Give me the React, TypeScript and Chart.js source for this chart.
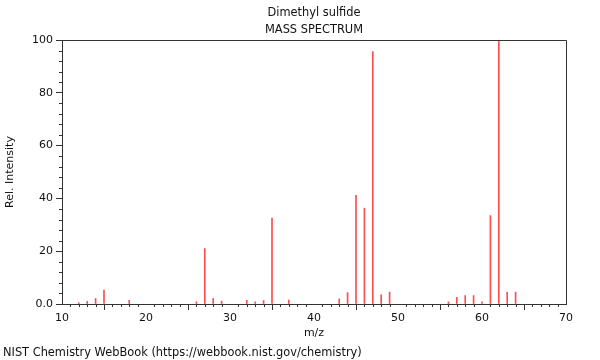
import React, { useEffect, useRef } from "react";
import { Chart, registerables } from "chart.js";

Chart.register(...registerables);

const chartTitle = "Dimethyl sulfide";
const chartSubtitle = "MASS SPECTRUM";
const footerText = "NIST Chemistry WebBook (https://webbook.nist.gov/chemistry)";
const xLabel = "m/z";
const yLabel = "Rel. Intensity";

const mzValues = [12, 13, 14, 15, 18, 26, 27, 28, 29, 32, 33, 34, 35, 37, 43, 44, 45, 46, 47, 48, 49, 56, 57, 58, 59, 60, 61, 62, 63, 64];
const intensities = [0.5, 1.0, 2.1, 5.3, 1.4, 0.8, 21.0, 2.1, 1.1, 1.4, 0.8, 1.3, 32.5, 1.5, 1.9, 4.3, 41.2, 36.3, 95.6, 3.5, 4.5, 0.8, 2.5, 3.2, 3.2, 0.8, 33.5, 100, 4.5, 4.5];

const xMin = 10;
const xMax = 70;
const yMin = 0;
const yMax = 100;

const FONT = "'DejaVu Sans', sans-serif";
const AXIS = "#333333";

const decorPlugin = {
  id: "decor",
  afterDraw(chart: any) {
    const ctx = chart.ctx;
    const { left, right, top, bottom } = chart.chartArea;
    const xs = chart.scales.x;
    const ys = chart.scales.y;
    ctx.save();
    ctx.strokeStyle = AXIS;
    ctx.lineWidth = 1;
    ctx.beginPath();
    ctx.moveTo(left, top + 0.5);
    ctx.lineTo(right + 0.5, top + 0.5);
    ctx.lineTo(right + 0.5, bottom);
    ctx.stroke();
    ctx.beginPath();
    for (let v = xMin; v <= xMax; v += 1) {
      if (v % 10 === 0) continue;
      const px = Math.round(xs.getPixelForValue(v)) + 0.5;
      ctx.moveTo(px, bottom);
      ctx.lineTo(px, bottom + 3);
    }
    for (let v = yMin; v <= yMax; v += 4) {
      if (v % 20 === 0) continue;
      const py = Math.round(ys.getPixelForValue(v)) + 0.5;
      ctx.moveTo(left, py);
      ctx.lineTo(left - 3, py);
    }
    ctx.stroke();
    ctx.fillStyle = "#111";
    ctx.font = `11.4px ${FONT}`;
    ctx.textAlign = "center";
    ctx.textBaseline = "middle";
    const cx = (left + right) / 2;
    ctx.fillText(chartTitle, cx, 13);
    ctx.fillText(chartSubtitle, cx, 30);
    ctx.textAlign = "left";
    ctx.fillText(footerText, 3, 353);
    ctx.restore();
  },
};

export default function App() {
  const ref = useRef<HTMLCanvasElement>(null);
  useEffect(() => {
    if (!ref.current) return;
    const chart = new Chart(ref.current, {
      type: "bar",
      data: {
        datasets: [
          {
            data: mzValues.map((m, i) => ({ x: m, y: intensities[i] })),
            backgroundColor: "rgba(255,0,0,0.7)",
            borderWidth: 0,
            barThickness: 1,
          } as any,
        ],
      },
      options: {
        animation: false,
        responsive: false,
        devicePixelRatio: 1,
        layout: { padding: { top: 40, right: 34, bottom: 20, left: 4 } },
        plugins: {
          legend: { display: false },
          tooltip: { enabled: false },
          title: { display: false },
        },
        scales: {
          x: {
            type: "linear",
            min: xMin,
            max: xMax,
            offset: false,
            border: { display: true, color: AXIS },
            grid: { display: true, drawOnChartArea: false, drawTicks: true, tickLength: 6, color: AXIS },
            ticks: { stepSize: 10, color: "#111", font: { family: FONT, size: 11 }, padding: 2, maxRotation: 0 },
            title: { display: true, text: xLabel, color: "#111", font: { family: FONT, size: 11 }, padding: 0 },
            afterFit(scale: any) {
              scale.height = 36;
            },
          },
          y: {
            min: yMin,
            max: yMax,
            border: { display: true, color: AXIS },
            grid: { display: true, drawOnChartArea: false, drawTicks: true, tickLength: 6, color: AXIS },
            ticks: {
              stepSize: 20,
              color: "#111",
              font: { family: FONT, size: 11 },
              padding: 3,
              callback: (v: any) => (v === 0 ? "0.0" : String(v)),
            },
            title: { display: true, text: yLabel, color: "#111", font: { family: FONT, size: 11 }, padding: { top: 0, bottom: 0 } },
            afterFit(scale: any) {
              scale.width = 58;
            },
          },
        },
      },
      plugins: [decorPlugin],
    });
    return () => chart.destroy();
  }, []);
  return (
    <div style={{ position: "fixed", left: 0, top: 0, width: 600, height: 360, background: "#fff" }}>
      <canvas ref={ref} width={600} height={360} style={{ width: 600, height: 360 }} />
    </div>
  );
}
